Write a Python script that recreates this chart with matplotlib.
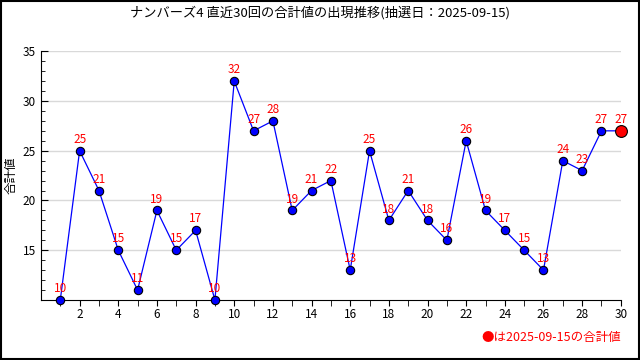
import matplotlib
matplotlib.use("Agg")
import matplotlib.pyplot as plt
from matplotlib.ticker import MultipleLocator, FixedLocator

plt.rcParams['font.family'] = ['Noto Sans CJK JP', 'DejaVu Sans']

draws = list(range(1, 31))
totals = [10, 25, 21, 15, 11, 19, 15, 17, 10, 32, 27, 28, 19, 21, 22, 13, 25, 18, 21, 18,
          16, 26, 19, 17, 15, 13, 24, 23, 27, 27]
xticks = list(range(2, 31, 2))
yticks = [15, 20, 25, 30, 35]
title = "ナンバーズ4 直近30回の合計値の出現推移(抽選日：2025-09-15)"
ylabel = "合計値"
note = "●は2025-09-15の合計値"

fig = plt.figure(figsize=(6.4, 3.6), dpi=100)
fig.patch.set_facecolor('white')
ax = fig.add_axes([0.064, 0.1667, 0.906, 0.691])

for y in yticks:
    ax.axhline(y, color='#d9d9d9', lw=1, zorder=0)

ax.plot(draws, totals, color='blue', lw=0.9, zorder=2)
ax.plot(draws[:-1], totals[:-1], 'o', color='blue', mec='black', mew=0.8, ms=6, zorder=3, clip_on=False)
ax.plot(draws[-1:], totals[-1:], 'o', color='red', mec='black', mew=0.8, ms=8.5, zorder=4, clip_on=False)

for x, v in zip(draws, totals):
    ax.annotate(str(v), (x, v), xytext=(0, 3.5), textcoords='offset points',
                ha='center', va='bottom', color='red', fontsize=8.5, zorder=5)

ax.set_xlim(0, 30)
ax.set_ylim(10, 35)
ax.set_xticks(xticks)
ax.xaxis.set_minor_locator(FixedLocator(draws))
ax.set_yticks(yticks)
ax.yaxis.set_minor_locator(MultipleLocator(1))
ax.tick_params(axis='y', which='major', direction='in', length=5, labelsize=8.5)
ax.tick_params(axis='y', which='minor', direction='in', length=3)
ax.tick_params(axis='x', which='both', direction='out', length=4, labelsize=8.5, pad=2)
ax.spines['top'].set_visible(False)
ax.spines['right'].set_visible(False)
ax.set_ylabel(ylabel, fontsize=9, labelpad=4)

fig.text(0.5, 0.965, title, ha='center', va='center', fontsize=9.5)
fig.text(0.97, 0.062, note, ha='right', va='center', fontsize=9, color='red')

border = plt.Rectangle((0.0015, 0.0025), 0.997, 0.995, transform=fig.transFigure,
                       fill=False, edgecolor='black', lw=1.5)
fig.patches.append(border)

fig.savefig('out.png', dpi=100)
